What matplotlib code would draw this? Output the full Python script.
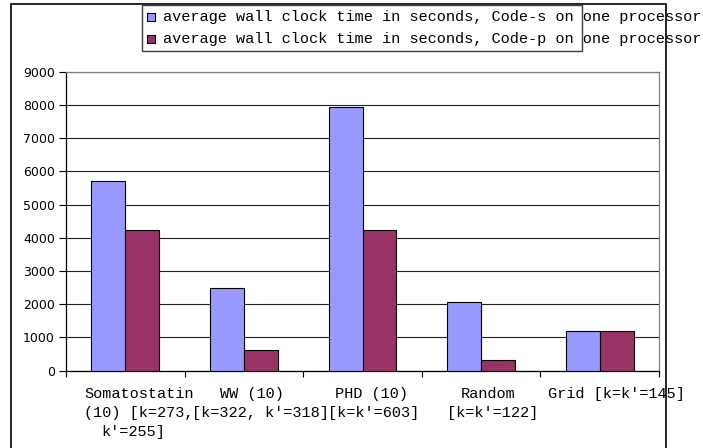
import matplotlib
matplotlib.use("Agg")
import matplotlib.pyplot as plt
from matplotlib.patches import Rectangle
from matplotlib.transforms import ScaledTranslation
import numpy as np

# Benchmark categories (multi-line labels) and timing series
categories = [
    "Somatostatin\n(10) [k=273,\nk'=255]",
    "WW (10)\n[k=322, k'=318]",
    "PHD (10)\n[k=k'=603]",
    "Random\n[k=k'=122]",
    "Grid [k=k'=145]",
]
series_names = [
    "average wall clock time in seconds, Code-s on one processor",
    "average wall clock time in seconds, Code-p on one processor",
]
code_s = [5720, 2480, 7940, 2060, 1200]
code_p = [4250, 620, 4250, 320, 1200]
y_ticks = [0, 1000, 2000, 3000, 4000, 5000, 6000, 7000, 8000, 9000]

colors = ["#9999FF", "#993366"]
mono = "Liberation Mono"

W, H = 703, 448
DPI = 100
fig = plt.figure(figsize=(W / DPI, H / DPI), dpi=DPI)
fig.patch.set_facecolor("white")


def fx(px):
    return px / W


def fy(py):
    return 1 - py / H


# plot area in pixel terms
left, right, top, bottom = 66, 659, 72, 370.5
ax = fig.add_axes([fx(left), fy(bottom), fx(right) - fx(left), fy(top) - fy(bottom)])

n = len(categories)
x = np.arange(n) + 0.5
bw = 1 / 3.5
series = [code_s, code_p]
for k, vals in enumerate(series):
    ax.bar(x + (k - 0.5) * bw, vals, bw, color=colors[k],
           edgecolor="black", linewidth=0.8, zorder=3)

ax.set_xlim(0, n)
ax.set_ylim(y_ticks[0], y_ticks[-1])
ax.set_yticks(y_ticks)
ax.set_yticklabels([str(v) for v in y_ticks], fontsize=9, family="DejaVu Sans")
ax.set_xticks(np.arange(n + 1))
ax.set_xticklabels([])
ax.tick_params(axis="y", direction="out", length=5, width=0.8, pad=3, colors="black")
ax.tick_params(axis="x", direction="out", length=4, width=0.8)
ax.yaxis.grid(True, color="#202020", linewidth=0.8)
ax.set_axisbelow(True)
for s in ("left", "bottom"):
    ax.spines[s].set_color("black")
    ax.spines[s].set_linewidth(0.9)
for s in ("right", "top"):
    ax.spines[s].set_color("#808080")
    ax.spines[s].set_linewidth(0.9)

# category labels, one line at a time
fs = 11
char_px = 0.6 * fs * DPI / 72
for i, label in enumerate(categories):
    for j, line in enumerate(label.split("\n")):
        w_px = len(line) * char_px
        dx = -0.75 * w_px / 2
        dy = -(23 + 19.2 * j)
        tr = ax.get_xaxis_transform() + ScaledTranslation(dx / DPI, dy / DPI, fig.dpi_scale_trans)
        ax.text(x[i], 0, line, transform=tr, ha="left", va="center",
                family=mono, fontsize=fs, clip_on=False)

# outer chart frame (bottom edge lies below the image)
fig.add_artist(Rectangle((fx(11), fy(460)), fx(666) - fx(11), fy(4) - fy(460),
                         transform=fig.transFigure, fill=False,
                         edgecolor="black", linewidth=1.2, clip_on=False))

# legend box with swatches and text
fig.add_artist(Rectangle((fx(142), fy(51)), fx(582) - fx(142), fy(5) - fy(51),
                         transform=fig.transFigure, facecolor="white",
                         edgecolor="#404040", linewidth=1.0))
row_y = [17, 39]
for k, name in enumerate(series_names):
    fig.add_artist(Rectangle((fx(147), fy(row_y[k] + 4)), fx(155) - fx(147), fy(row_y[k] - 4) - fy(row_y[k] + 4),
                             transform=fig.transFigure, facecolor=colors[k],
                             edgecolor="black", linewidth=0.8))
    fig.text(fx(163), fy(row_y[k]), name, ha="left", va="center",
             family=mono, fontsize=fs)

fig.savefig("out.png", dpi=DPI)
